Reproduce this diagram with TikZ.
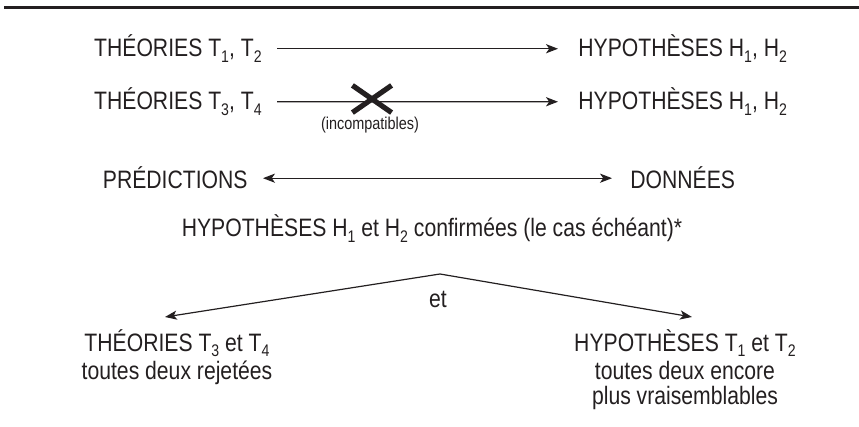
\documentclass[tikz,border=0pt]{standalone}
\usepackage{fontspec}
\setmainfont{Liberation Sans}[FakeStretch=0.84]
\usetikzlibrary{arrows.meta,shapes.misc}
\definecolor{ink}{HTML}{231F20}
\newcommand{\sbs}[1]{\raisebox{-0.4ex}{\fontsize{8.4}{9}\selectfont #1}}

\begin{document}
\begin{tikzpicture}[x=0.5pt,y=-0.5pt,ink,
    txt/.style={inner sep=0pt,font=\fontsize{12.6}{12.5}\selectfont,text=ink},
    small txt/.style={inner sep=0pt,font=\fontsize{8.6}{10}\selectfont,text=ink},
    link/.style={line width=0.6pt,-{Stealth[length=6pt,width=4.6pt,inset=1.6pt]}},
    both link/.style={line width=0.6pt,{Stealth[length=6pt,width=4.6pt,inset=1.6pt]}-{Stealth[length=6pt,width=4.6pt,inset=1.6pt]}}]

    \useasboundingbox (0,0) rectangle (859,427);
    \draw[line width=1.5pt] (4,8) -- (859,8);

    % Define rows
    \node[txt,anchor=base east] (t12) at (262,57) {THÉORIES T\sbs{1}, T\sbs{2}};
    \node[txt,anchor=base west] (h12) at (578,57) {HYPOTHÈSES H\sbs{1}, H\sbs{2}};
    \node[txt,anchor=base east] (t34) at (262,110) {THÉORIES T\sbs{3}, T\sbs{4}};
    \node[txt,anchor=base west] (h12b) at (578,110) {HYPOTHÈSES H\sbs{1}, H\sbs{2}};
    \node[small txt] (incomp) at (370,125) {(incompatibles)};
    \node[txt,anchor=base east] (pred) at (248,189) {PRÉDICTIONS};
    \node[txt,anchor=base west] (data) at (630,189) {DONNÉES};
    \node[txt,anchor=base] (conf) at (432,237) {HYPOTHÈSES H\sbs{1} et H\sbs{2} confirmées (le cas échéant)*};
    \node[txt,anchor=base] (et) at (438,308) {et};
    \node[txt,anchor=north,align=center] (ruin) at (177,329) {THÉORIES T\sbs{3} et T\sbs{4}\\[1.8pt]toutes deux rejetées};
    \node[txt,anchor=north,align=center] (keep) at (685,329) {HYPOTHÈSES T\sbs{1} et T\sbs{2}\\[1.8pt]toutes deux encore\\plus vraisemblables};

    % Define arrows
    \draw[link,shorten <=7.5pt,shorten >=10pt] (t12.east) -- (h12.west);
    \draw[link,shorten <=7.5pt,shorten >=10pt] (t34.east) -- (h12b.west);
    \node[cross out,draw,line width=2.6pt,inner sep=0pt,minimum width=17pt,minimum height=11pt] (block) at (372,99) {};
    \draw[both link,shorten <=7.5pt,shorten >=9pt] (pred.east) -- (data.west);

    \coordinate (fork) at (440,274);
    \coordinate (lefttip) at (165,317);
    \coordinate (righttip) at (692,317);
    \draw[link] (fork) -- (lefttip);
    \draw[link] (fork) -- (righttip);

\end{tikzpicture}
\end{document}
